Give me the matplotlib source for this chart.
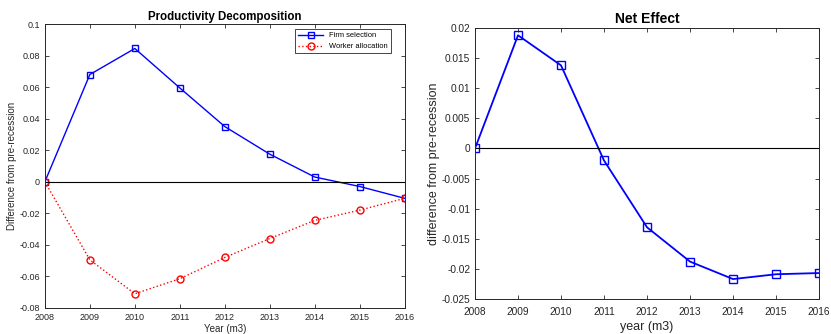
import matplotlib
matplotlib.use("Agg")
import matplotlib.pyplot as plt

# data
years = [2008, 2009, 2010, 2011, 2012, 2013, 2014, 2015, 2016]
firm_selection = [0.0, 0.068, 0.0845, 0.0595, 0.035, 0.0175, 0.003, -0.003, -0.0105]
worker_allocation = [0.0, -0.0495, -0.071, -0.0615, -0.048, -0.036, -0.0245, -0.018, -0.0105]
net_effect = [0.0, 0.0188, 0.0138, -0.002, -0.0131, -0.0188, -0.0217, -0.0209, -0.0207]

plt.rcParams["font.family"] = ["Liberation Sans", "DejaVu Sans"]

fig = plt.figure(figsize=(8.31, 3.34), dpi=100)
ax1 = fig.add_axes([0.054, 0.078, 0.433, 0.850])
ax2 = fig.add_axes([0.5716, 0.105, 0.414, 0.811])


def matlab_style(ax, size):
    ax.tick_params(direction="in", top=True, right=True, length=3,
                   width=0.6, labelsize=size, colors="#262626")
    for s in ax.spines.values():
        s.set_linewidth(0.7)
        s.set_color("#262626")


# left panel
ax1.plot(years, firm_selection, color="blue", marker="s", markersize=5,
         markerfacecolor="none", linewidth=1, label="Firm selection")
ax1.plot(years, worker_allocation, color="red", marker="o", markersize=5,
         markerfacecolor="none", linewidth=1, linestyle=":",
         label="Worker allocation")
ax1.axhline(0, color="black", linewidth=0.8)
ax1.set_xlim(2008, 2016)
ax1.set_ylim(-0.08, 0.1)
ax1.set_xticks(years)
ax1.set_yticks([-0.08, -0.06, -0.04, -0.02, 0, 0.02, 0.04, 0.06, 0.08, 0.1])
ax1.set_yticklabels(["-0.08", "-0.06", "-0.04", "-0.02", "0", "0.02",
                     "0.04", "0.06", "0.08", "0.1"])
matlab_style(ax1, 6.5)
ax1.set_title("Productivity Decomposition", fontsize=8.3, fontweight="bold", pad=3)
ax1.set_xlabel("Year (m3)", fontsize=7, color="#262626", labelpad=1.5)
ax1.set_ylabel("Difference from pre-recession", fontsize=7, color="#262626",
               labelpad=2)
leg = ax1.legend(loc="upper right", bbox_to_anchor=(0.961, 0.982),
                 fontsize=5.4, fancybox=False, edgecolor="#262626",
                 framealpha=1, borderpad=0.4, handlelength=3.3,
                 borderaxespad=0)
leg.get_frame().set_linewidth(0.6)

# right panel
ax2.plot(years, net_effect, color="blue", marker="s", markersize=6,
         markerfacecolor="none", linewidth=1.3)
ax2.axhline(0, color="black", linewidth=0.8)
ax2.set_xlim(2008, 2016)
ax2.set_ylim(-0.025, 0.02)
ax2.set_xticks(years)
ax2.set_yticks([-0.025, -0.02, -0.015, -0.01, -0.005, 0, 0.005, 0.01, 0.015, 0.02])
ax2.set_yticklabels(["-0.025", "-0.02", "-0.015", "-0.01", "-0.005", "0",
                     "0.005", "0.01", "0.015", "0.02"])
matlab_style(ax2, 7.3)
ax2.tick_params(axis="x", pad=5.5)
ax2.set_title("Net Effect", fontsize=10, fontweight="bold", pad=4)
ax2.set_xlabel("year (m3)", fontsize=9, color="#262626", labelpad=3)
ax2.set_ylabel("difference from pre-recession", fontsize=9, color="#262626",
               labelpad=1)

fig.savefig("out.png", dpi=100)
